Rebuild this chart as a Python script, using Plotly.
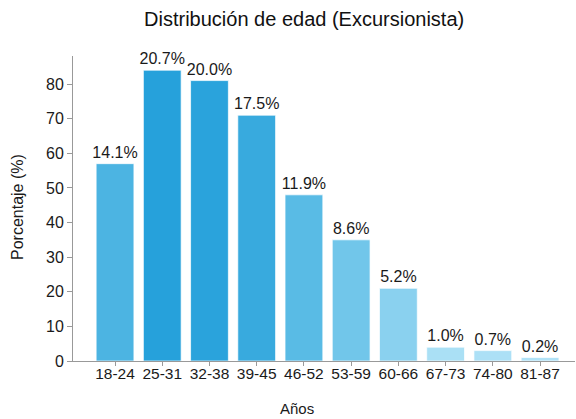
import plotly.graph_objects as go

# Age groups and number of hikers in each group
grupos = ["18-24", "25-31", "32-38", "39-45", "46-52", "53-59", "60-66", "67-73", "74-80", "81-87"]
conteos = [57, 84, 81, 71, 48, 35, 21, 4, 3, 1]

total = sum(conteos)
etiquetas = [f"{100 * c / total:.1f}%" for c in conteos]

FUENTE = "Liberation Sans, Arial, sans-serif"
TINTA = "#1a1a1a"

fig = go.Figure(
    go.Bar(
        x=grupos,
        y=conteos,
        text=etiquetas,
        textposition="outside",
        constraintext="none",
        textfont=dict(family=FUENTE, size=16, color=TINTA),
        cliponaxis=False,
        marker=dict(
            color=conteos,
            cmin=0,
            cmax=max(conteos),
            colorscale=[[0.0, "#b2e3f7"], [0.25, "#8ad1ef"], [0.6, "#55b9e4"], [1.0, "#26a1db"]],
            line=dict(color="rgba(255,255,255,0.7)", width=1),
        ),
    )
)

fig.update_layout(
    width=576,
    height=419,
    margin=dict(l=73, r=1, t=56, b=58),
    paper_bgcolor="white",
    plot_bgcolor="white",
    bargap=0.2,
    showlegend=False,
    font=dict(family=FUENTE, size=15, color=TINTA),
    title=dict(
        text="Distribución de edad (Excursionista)",
        x=0.528,
        xanchor="center",
        y=0.955,
        yanchor="middle",
        font=dict(family=FUENTE, size=20, color="#111"),
    ),
    xaxis=dict(
        range=[-0.89, 9.74],
        showline=True,
        linecolor="#999",
        linewidth=1,
        ticks="outside",
        ticklen=4,
        tickcolor="#999",
        ticklabelstandoff=-6,
        showgrid=False,
        zeroline=False,
        tickfont=dict(family=FUENTE, size=15.5, color=TINTA),
    ),
    yaxis=dict(
        range=[0, 88.1],
        tickvals=[0, 10, 20, 30, 40, 50, 60, 70, 80],
        showline=True,
        linecolor="#999",
        linewidth=1,
        ticks="outside",
        ticklen=5,
        tickcolor="#999",
        showgrid=False,
        zeroline=False,
        tickfont=dict(family=FUENTE, size=16, color=TINTA),
    ),
    annotations=[
        dict(
            text="Años",
            xref="paper", yref="paper",
            x=(297 - 73) / 502, y=-(408 - 361) / 305,
            xanchor="center", yanchor="middle",
            showarrow=False,
            font=dict(family=FUENTE, size=15, color=TINTA),
        ),
        dict(
            text="Porcentaje (%)",
            xref="paper", yref="paper",
            x=-(73 - 18) / 502, y=(361 - 207) / 305,
            xanchor="center", yanchor="middle",
            textangle=-90,
            showarrow=False,
            font=dict(family=FUENTE, size=16, color=TINTA),
        ),
    ],
)

fig.write_html("out.html")
